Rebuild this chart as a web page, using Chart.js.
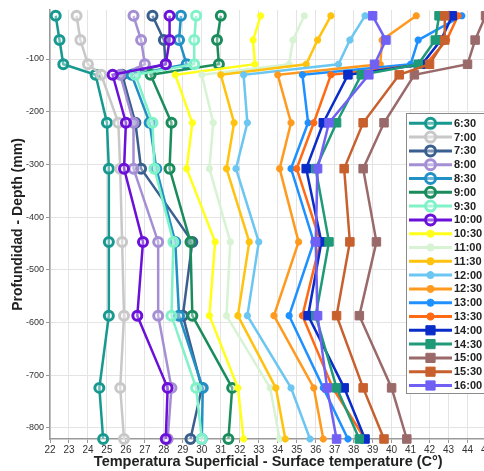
<!DOCTYPE html>
<html>
<head>
<meta charset="utf-8">
<script src="https://cdn.jsdelivr.net/npm/chart.js@4.4.1/dist/chart.umd.min.js"></script>
<style>
  html, body { margin: 0; padding: 0; background: #fff; overflow: hidden; }
  #wrap { position: relative; width: 494px; height: 471px; }
</style>
</head>
<body>
<div id="wrap"><canvas id="chart" width="494" height="471"></canvas></div>
<script>
// depth of each reading (mm), top to bottom
const depths = [-18, -64, -110, -130, -221, -308, -447, -587, -724, -821];

const times = ["6:30", "7:00", "7:30", "8:00", "8:30", "9:00", "9:30", "10:00", "10:30", "11:00",
  "11:30", "12:00", "12:30", "13:00", "13:30", "14:00", "14:30", "15:00", "15:30", "16:00"];

// temperature (C) at each depth, one array per hour
const t0630 = [22.3, 22.5, 22.7, 24.4, 25.0, 25.1, 25.1, 25.1, 24.6, 24.8];
const t0700 = [23.4, 23.6, 24.0, 24.7, 25.6, 25.7, 25.8, 25.9, 25.7, 25.9];
const t0730 = [27.4, 28.0, 28.1, 25.8, 26.5, 26.8, 29.5, 29.0, 30.0, 29.4];
const t0800 = [26.4, 26.8, 27.0, 25.7, 26.4, 26.4, 27.7, 27.7, 28.4, 28.2];
const t0830 = [28.9, 28.8, 29.2, 26.3, 27.25, 27.6, 28.6, 28.8, 30.05, 30.0];
const t0900 = [31.0, 30.8, 30.9, 27.3, 28.4, 28.3, 29.4, 29.5, 31.6, 31.4];
const t0930 = [29.7, 29.6, 29.6, 26.5, 27.4, 27.5, 28.5, 28.4, 29.7, 30.0];
const t1000 = [28.3, 28.3, 28.1, 25.3, 26.0, 25.9, 26.9, 26.6, 28.2, 28.1];
const t1030 = [33.1, 32.7, 32.8, 28.6, 29.5, 29.2, 30.7, 30.4, 31.9, 32.2];
const t1100 = [35.4, 34.8, 34.6, 30.0, 30.6, 30.4, 31.5, 31.3, 33.6, 34.1];
const t1130 = [36.8, 36.1, 35.5, 31.0, 31.7, 31.3, 32.5, 31.9, 33.9, 34.4];
const t1200 = [38.6, 37.8, 37.2, 32.2, 32.4, 31.8, 33.0, 32.4, 34.7, 35.7];
const t1230 = [41.3, 39.5, 39.4, 34.0, 34.7, 34.1, 35.1, 33.8, 35.9, 36.4];
const t1300 = [43.7, 41.4, 41.0, 35.3, 35.6, 34.7, 35.9, 34.6, 36.4, 37.7];
const t1330 = [43.5, 42.9, 41.8, 36.8, 35.9, 35.0, 36.25, 35.3, 36.9, 38.6];
const t1400 = [43.2, 42.6, 41.6, 37.7, 36.4, 35.5, 36.3, 35.6, 37.5, 38.6];
const t1430 = [42.5, 42.3, 41.4, 38.4, 37.1, 36.0, 36.7, 36.0, 37.1, 38.3];
const t1500 = [44.95, 44.4, 44.0, 41.2, 39.6, 38.5, 39.2, 38.3, 40.0, 40.8];
const t1530 = [42.8, 42.8, 42.0, 40.4, 38.5, 37.5, 37.8, 37.1, 38.5, 39.6];
const t1600 = [39.0, 39.7, 39.1, 38.8, 36.7, 36.1, 36.0, 36.1, 36.6, 37.1];

const xTicks = [22, 23, 24, 25, 26, 27, 28, 29, 30, 31, 32, 33, 34, 35, 36, 37, 38, 39, 40, 41, 42, 43, 44, 45];
const yTicks = [-800, -700, -600, -500, -400, -300, -200, -100];

const series = [t0630, t0700, t0730, t0800, t0830, t0900, t0930, t1000, t1030, t1100,
  t1130, t1200, t1230, t1300, t1330, t1400, t1430, t1500, t1530, t1600];

const colors = ["#17998f", "#c8c8c8", "#3a5f8f", "#a58fd4", "#2190c4", "#1a8c5c", "#7ff2c8", "#6a10d8",
  "#ffff1a", "#d8f3d4", "#ffc20e", "#6cc6f2", "#ff9a1e", "#1e90ff", "#ff6a14",
  "#0a2cc8", "#1e9a78", "#9a6a6a", "#c8602e", "#7060f4"];

// marker kind by hour: rings early, small stars midday, squares late
function markerFor(i) {
  if (i < 8) return { pointStyle: "circle", radius: 4.5, borderWidth: 3, fill: "rgba(255,255,255,0.35)" };
  if (i < 15) return { pointStyle: "star", radius: 3.5, borderWidth: 2.5, fill: null };
  return { pointStyle: "rect", radius: 6, borderWidth: 1, fill: null };
}

const datasets = series.map((vals, i) => {
  const m = markerFor(i);
  return {
    label: times[i],
    data: vals.map((t, k) => ({ x: t, y: depths[k] })),
    borderColor: colors[i],
    backgroundColor: m.fill || colors[i],
    borderWidth: 2.5,
    pointStyle: m.pointStyle,
    pointRadius: m.radius,
    pointBorderWidth: m.borderWidth,
    pointBorderColor: colors[i],
    pointBackgroundColor: m.fill || colors[i],
    tension: 0,
    clip: false,
    order: series.length - i,
  };
});

// legend drawn inside the plot, like the original figure
const boxLegend = {
  id: "boxLegend",
  afterDraw(chart) {
    const ctx = chart.ctx;
    const left = 406, top = 113, bottom = 393, rowH = 13.8, firstY = 123.3;
    ctx.save();
    ctx.fillStyle = "#fff";
    ctx.strokeStyle = "#8a8a8a";
    ctx.lineWidth = 1;
    ctx.fillRect(left, top, 140, bottom - top);
    ctx.strokeRect(left + 0.5, top + 0.5, 140, bottom - top);
    chart.data.datasets.forEach((ds, i) => {
      const y = firstY + i * rowH;
      ctx.strokeStyle = ds.borderColor;
      ctx.lineWidth = 3;
      ctx.beginPath();
      ctx.moveTo(409, y);
      ctx.lineTo(452, y);
      ctx.stroke();
      ctx.fillStyle = ds.pointBackgroundColor;
      ctx.strokeStyle = ds.borderColor;
      ctx.lineWidth = ds.pointBorderWidth;
      Chart.helpers.drawPoint(ctx, {
        pointStyle: ds.pointStyle,
        radius: ds.pointRadius + 0.5,
        borderWidth: ds.pointBorderWidth,
        rotation: 0,
      }, 430.5, y);
      ctx.fillStyle = "#222";
      ctx.font = "bold 11px 'Liberation Sans', Arial, sans-serif";
      ctx.textBaseline = "middle";
      ctx.textAlign = "left";
      ctx.fillText(ds.label, 454, y + 0.5);
    });
    ctx.restore();
  },
};

new Chart(document.getElementById("chart"), {
  type: "line",
  data: { datasets },
  options: {
    responsive: false,
    animation: false,
    devicePixelRatio: 1,
    layout: { padding: { top: 10, left: 0, right: 0, bottom: 0 } },
    plugins: {
      legend: { display: false },
      tooltip: { enabled: false },
    },
    scales: {
      x: {
        type: "linear",
        position: "bottom",
        min: 22,
        max: 45,
        afterBuildTicks: (axis) => { axis.ticks = xTicks.map((v) => ({ value: v })); },
        afterFit: (scale) => { scale.height = 32; },
        grid: { color: "#e4e4e4", lineWidth: 1, tickLength: 4, tickColor: "#999" },
        border: { color: "#9a9a9a", width: 1.5 },
        ticks: {
          color: "#333",
          padding: 1,
          maxRotation: 0,
          autoSkip: false,
          font: { family: "'Liberation Sans', Arial, sans-serif", size: 10 },
        },
        title: {
          display: true,
          text: "Temperatura Superficial - Surface temperature (C°)",
          color: "#222",
          padding: { top: 0, bottom: 0 },
          font: { family: "'Liberation Sans', Arial, sans-serif", size: 14.5, weight: "bold" },
        },
      },
      y: {
        type: "linear",
        min: -821,
        max: -7,
        afterBuildTicks: (axis) => { axis.ticks = yTicks.map((v) => ({ value: v })); },
        afterFit: (scale) => { scale.width = 50; },
        grid: { color: "#e4e4e4", lineWidth: 1, tickLength: 4, tickColor: "#999" },
        border: { color: "#9a9a9a", width: 1.5 },
        ticks: {
          color: "#333",
          padding: 2,
          autoSkip: false,
          font: { family: "'Liberation Sans', Arial, sans-serif", size: 9 },
        },
        title: {
          display: true,
          text: "Profundidad - Depth (mm)",
          color: "#222",
          padding: { top: 10, bottom: 0 },
          font: { family: "'Liberation Sans', Arial, sans-serif", size: 14, weight: "bold" },
        },
      },
    },
  },
  plugins: [boxLegend],
});
</script>
</body>
</html>
